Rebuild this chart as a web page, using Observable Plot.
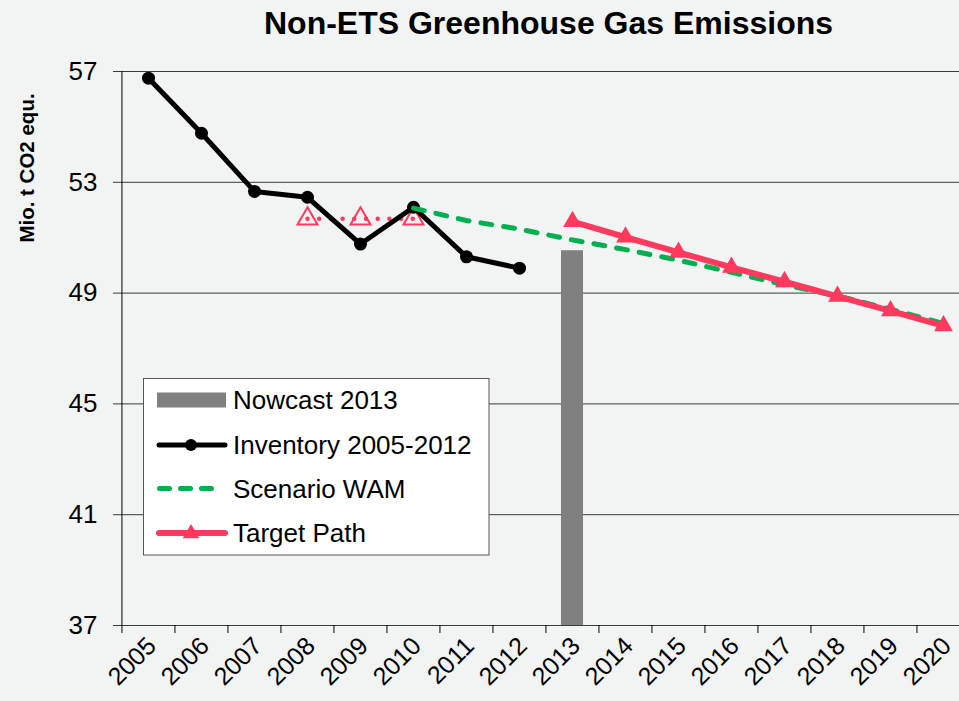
<!DOCTYPE html>
<html>
<head>
<meta charset="utf-8">
<script src="https://cdn.jsdelivr.net/npm/d3@7"></script>
<script src="https://cdn.jsdelivr.net/npm/@observablehq/plot@0.6"></script>
<style>
  html, body { margin: 0; padding: 0; background: #f2f4f3; overflow: hidden; }
  #wrap { position: relative; width: 959px; height: 701px; background: #f2f4f3; font-family: "Liberation Sans", Arial, sans-serif; }
  #title { width: 959px; height: 44px; line-height: 46px; box-sizing: border-box; padding-left: 138px; text-align: center; font-size: 32px; font-weight: bold; color: #000; }
  #legend { position: absolute; left: 0; top: 0; pointer-events: none; }
</style>
</head>
<body>
<div id="wrap">
  <div id="title">Non-ETS Greenhouse Gas Emissions</div>
  <div id="chart"></div>
</div>
<script>
// ---------- data ----------
const years = ["2005","2006","2007","2008","2009","2010","2011","2012","2013","2014","2015","2016","2017","2018","2019","2020"];
const yTicks = [37, 41, 45, 49, 53, 57];
const yLabel = "Mio. t CO2 equ.";

const inventoryYears = ["2005","2006","2007","2008","2009","2010","2011","2012"];
const inventoryValues = [56.76, 54.77, 52.67, 52.46, 50.77, 52.10, 50.31, 49.90];

const nowcastYears = ["2013"];
const nowcastValues = [50.53];

const wamYears = ["2010","2011","2012","2013","2014","2015","2016","2017","2018","2019","2020"];
const wamValues = [52.07, 51.62, 51.31, 50.92, 50.57, 50.19, 49.75, 49.30, 48.90, 48.42, 47.90];

const kyotoYears = ["2008","2009","2010"];
const kyotoValues = [51.68, 51.68, 51.68];

const targetYears = ["2013","2014","2015","2016","2017","2018","2019","2020"];
const targetValues = [51.58, 51.02, 50.47, 49.93, 49.41, 48.88, 48.36, 47.82];

const legendLabels = ["Nowcast 2013", "Inventory 2005-2012", "Scenario WAM", "Target Path"];

// ---------- styles ----------
const pink = "#ff3a5e";
const green = "#00b050";
const grey = "#808080";
const font = "Liberation Sans, Arial, sans-serif";

const zip = (xs, vs) => xs.map((x, i) => ({year: x, value: vs[i]}));
const inventory = zip(inventoryYears, inventoryValues);
const nowcast = zip(nowcastYears, nowcastValues);
const wam = zip(wamYears, wamValues);
const kyoto = zip(kyotoYears, kyotoValues);
const target = zip(targetYears, targetValues);

const W = 959, H = 657;
const mTop = 27, mBottom = 76, mLeft = 121;
const xRange = [121, 970.6];
const halfStep = (xRange[1] - xRange[0]) / years.length / 2;
const plotH = H - mTop - mBottom;
const yMin = d3.min(yTicks), yMax = d3.max(yTicks);

const chart = Plot.plot({
  width: W,
  height: H,
  marginTop: mTop,
  marginBottom: mBottom,
  marginLeft: mLeft,
  marginRight: 0,
  style: {background: "transparent", fontFamily: font, color: "#000"},
  x: {type: "band", domain: years, range: xRange, paddingInner: 0.58, paddingOuter: 0.29, align: 0.5, axis: null},
  y: {domain: [yMin, yMax], axis: null},
  marks: [
    // gridlines (with tick stubs to the left)
    Plot.ruleY(yTicks, {y: d => d, stroke: "#3a3a3a", strokeWidth: 1, insetLeft: -8}),
    // y axis line
    Plot.ruleX([years[0]], {x: d => d, dx: -halfStep, stroke: "#000", strokeWidth: 1}),
    // x tick marks at category boundaries
    Plot.ruleX(years, {x: d => d, dx: -halfStep, stroke: "#000", strokeWidth: 1, insetTop: plotH, insetBottom: -8}),
    // y tick labels
    Plot.text(yTicks, {y: d => d, text: d => String(d), frameAnchor: "left", textAnchor: "end", dx: -24, fontSize: 26, fill: "#000"}),
    // x tick labels
    Plot.text(years, {x: d => d, frameAnchor: "bottom", rotate: -45, textAnchor: "end", dx: 9, dy: 22, fontSize: 25, fill: "#000"}),
    // nowcast bar
    Plot.barY(nowcast, {x: "year", y1: () => yMin, y2: "value", fill: grey}),
    // kyoto dotted line + hollow triangles
    Plot.line(kyoto, {x: "year", y: "value", stroke: pink, strokeWidth: 4.5, strokeDasharray: "0 11.7", strokeLinecap: "round"}),
    Plot.dot(kyoto, {x: "year", y: "value", symbol: "triangle", r: 7.4, stroke: pink, strokeWidth: 2, fill: "none"}),
    // inventory
    Plot.line(inventory, {x: "year", y: "value", stroke: "#000", strokeWidth: 5, strokeLinejoin: "round"}),
    Plot.dot(inventory, {x: "year", y: "value", r: 6.5, fill: "#000"}),
    // scenario WAM
    Plot.line(wam, {x: "year", y: "value", stroke: green, strokeWidth: 5, strokeDasharray: "11 12", strokeLinecap: "round"}),
    // target path
    Plot.line(target, {x: "year", y: "value", stroke: pink, strokeWidth: 6}),
    Plot.dot(target, {x: "year", y: "value", symbol: "triangle", r: 7, fill: pink})
  ]
});
document.getElementById("chart").appendChild(chart);

// ---------- overlay: y-axis title and legend ----------
const lg = d3.select("#wrap").append("svg").attr("id", "legend").attr("width", 959).attr("height", 701);
lg.append("text").attr("transform", "translate(27,168) rotate(-90)")
  .attr("text-anchor", "middle").attr("dy", "0.35em")
  .attr("font-family", font).attr("font-size", 20.5).attr("font-weight", "bold").attr("fill", "#000")
  .text(yLabel);

lg.append("rect").attr("x", 143.5).attr("y", 378.5).attr("width", 345.5).attr("height", 176.5)
  .attr("fill", "#fff").attr("stroke", "#555").attr("stroke-width", 1);
const rowY = [400, 445, 488.5, 533];
// row 1: bar swatch
lg.append("rect").attr("x", 157).attr("y", rowY[0] - 7.5).attr("width", 69).attr("height", 15).attr("fill", grey);
// row 2: inventory line + dot
lg.append("line").attr("x1", 159).attr("x2", 225).attr("y1", rowY[1]).attr("y2", rowY[1])
  .attr("stroke", "#000").attr("stroke-width", 5).attr("stroke-linecap", "round");
lg.append("circle").attr("cx", 191).attr("cy", rowY[1]).attr("r", 6).attr("fill", "#000");
// row 3: dashed green
lg.append("line").attr("x1", 159.5).attr("x2", 214).attr("y1", rowY[2]).attr("y2", rowY[2])
  .attr("stroke", green).attr("stroke-width", 5).attr("stroke-linecap", "round").attr("stroke-dasharray", "10 11");
// row 4: target line + triangle
lg.append("line").attr("x1", 159).attr("x2", 225).attr("y1", rowY[3]).attr("y2", rowY[3])
  .attr("stroke", pink).attr("stroke-width", 6).attr("stroke-linecap", "round");
lg.append("path").attr("d", d3.symbol(d3.symbolTriangle, 120)()).attr("transform", `translate(191,${rowY[3] + 0.5})`).attr("fill", pink);
lg.selectAll("text.lab").data(legendLabels).join("text").attr("class", "lab")
  .attr("x", 233).attr("y", (d, i) => rowY[i]).attr("dy", "0.35em")
  .attr("font-family", font).attr("font-size", 26).attr("fill", "#000").text(d => d);
</script>
</body>
</html>
